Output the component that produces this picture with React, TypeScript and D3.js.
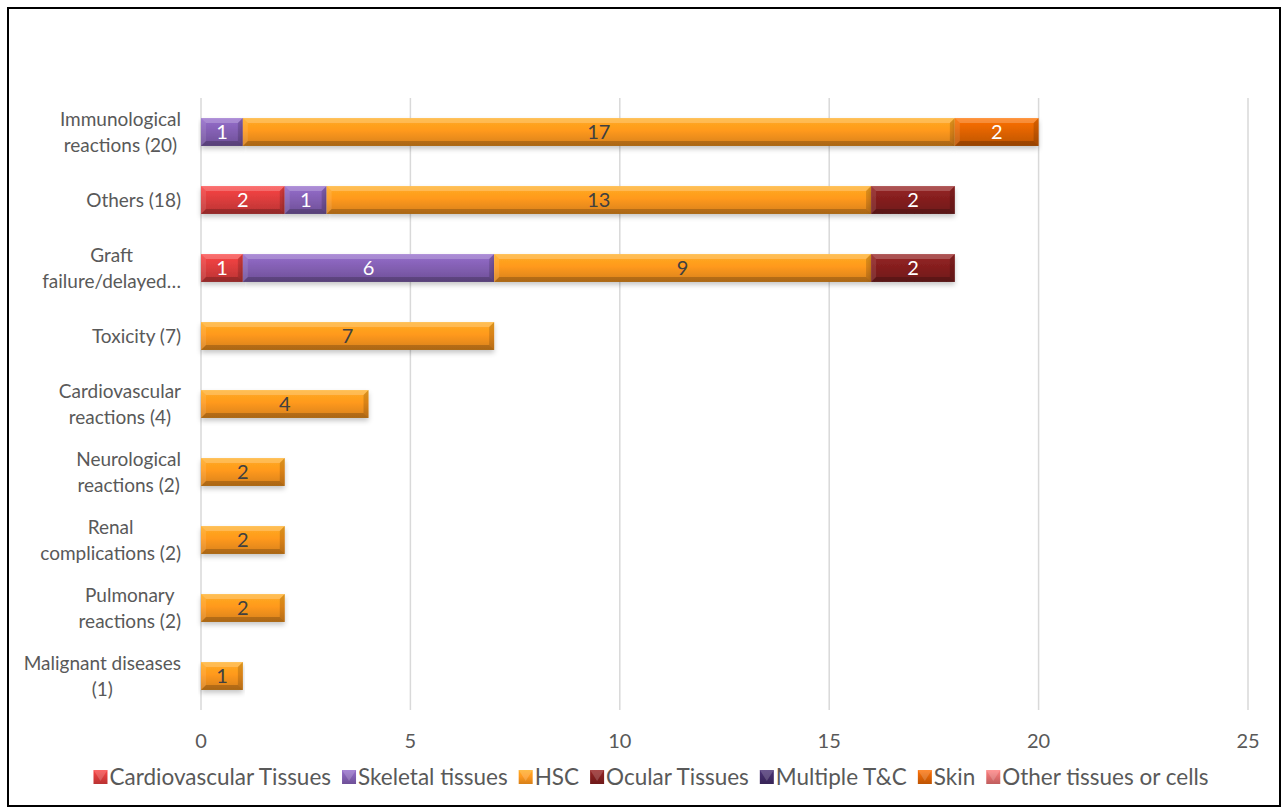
import React, { useEffect, useRef } from "react";
import * as d3 from "d3";

const categories = [
  ["Immunological", "reactions (20)"],
  ["Others (18)"],
  ["Graft", "failure/delayed…"],
  ["Toxicity (7)"],
  ["Cardiovascular", "reactions (4)"],
  ["Neurological", "reactions (2)"],
  ["Renal", "complications (2)"],
  ["Pulmonary", "reactions (2)"],
  ["Malignant diseases", "(1)"],
];

const seriesNames = [
  "Cardiovascular Tissues",
  "Skeletal tissues",
  "HSC",
  "Ocular Tissues",
  "Multiple T&C",
  "Skin",
  "Other tissues or cells",
];

const cardiovascular = [0, 2, 1, 0, 0, 0, 0, 0, 0];
const skeletal = [1, 1, 6, 0, 0, 0, 0, 0, 0];
const hsc = [17, 13, 9, 7, 4, 2, 2, 2, 1];
const ocular = [0, 2, 2, 0, 0, 0, 0, 0, 0];
const multiple = [0, 0, 0, 0, 0, 0, 0, 0, 0];
const skin = [2, 0, 0, 0, 0, 0, 0, 0, 0];
const otherTissues = [0, 0, 0, 0, 0, 0, 0, 0, 0];

const xTicks = [0, 5, 10, 15, 20, 25];

const colors = ["#d23a3a", "#7d5bab", "#f2911c", "#7e1d1d", "#3f2a63", "#d65f05", "#d86a6a"];
const labelColors = ["#fff", "#fff", "#404040", "#fff", "#fff", "#fff", "#fff"];

const FONT = "Lato, 'Open Sans', sans-serif";

const App: React.FC = () => {
  const svgRef = useRef<SVGSVGElement | null>(null);

  useEffect(() => {
    if (!svgRef.current) return;
    const svg = d3.select(svgRef.current);
    svg.selectAll("*").remove();

    const width = 1282;
    const height = 809;
    const plot = { left: 201, right: 1248, top: 98, bottom: 710 };

    const values = [cardiovascular, skeletal, hsc, ocular, multiple, skin, otherTissues];

    const defs = svg.append("defs");
    colors.forEach((c, i) => {
      const grad = defs
        .append("linearGradient")
        .attr("id", `g${i}`)
        .attr("x1", 0)
        .attr("y1", 0)
        .attr("x2", 0)
        .attr("y2", 1);
      const base = d3.color(c)!;
      grad.append("stop").attr("offset", "0%").attr("stop-color", base.brighter(0.5).formatHex());
      grad.append("stop").attr("offset", "45%").attr("stop-color", base.brighter(0.15).formatHex());
      grad.append("stop").attr("offset", "100%").attr("stop-color", base.darker(0.35).formatHex());
    });
    const shadow = defs.append("filter").attr("id", "sh").attr("x", "-5%").attr("y", "-20%").attr("width", "110%").attr("height", "160%");
    shadow
      .append("feDropShadow")
      .attr("dx", 0)
      .attr("dy", 3)
      .attr("stdDeviation", 2.5)
      .attr("flood-color", "#000")
      .attr("flood-opacity", 0.22);

    svg
      .append("rect")
      .attr("x", 8)
      .attr("y", 8)
      .attr("width", 1272)
      .attr("height", 798)
      .attr("fill", "#fff")
      .attr("stroke", "#000")
      .attr("stroke-width", 2);

    const x = d3.scaleLinear().domain([0, 25]).range([plot.left, plot.right]);
    const y = d3
      .scaleBand<number>()
      .domain(d3.range(categories.length))
      .range([plot.top, plot.bottom])
      .paddingInner(0.59)
      .paddingOuter(0.295);

    // gridlines
    svg
      .append("g")
      .selectAll("line")
      .data(xTicks)
      .enter()
      .append("line")
      .attr("x1", (d) => x(d))
      .attr("x2", (d) => x(d))
      .attr("y1", plot.top)
      .attr("y2", plot.bottom)
      .attr("stroke", "#d9d9d9")
      .attr("stroke-width", 1.5);

    // tick labels
    svg
      .append("g")
      .selectAll("text")
      .data(xTicks)
      .enter()
      .append("text")
      .attr("x", (d) => x(d))
      .attr("y", 741)
      .attr("dy", "0.35em")
      .attr("text-anchor", "middle")
      .attr("font-family", FONT)
      .attr("font-size", 20)
      .attr("fill", "#595959")
      .text((d) => d);

    // category labels (lines centered, block right aligned)
    const labelRight = 181;
    categories.forEach((lines, i) => {
      const g = svg.append("g");
      const texts = lines.map((l) =>
        g
          .append("text")
          .attr("font-family", FONT)
          .attr("font-size", 19)
          .attr("fill", "#595959")
          .attr("text-anchor", "middle")
          .text(l)
      );
      const maxW = d3.max(texts, (t) => (t.node() as SVGTextElement).getComputedTextLength()) || 0;
      const cy = y(i)! + y.bandwidth() / 2;
      const lh = 26;
      texts.forEach((t, j) => {
        t.attr("x", labelRight - maxW / 2)
          .attr("y", cy + (j - (lines.length - 1) / 2) * lh)
          .attr("dy", "0.35em");
      });
    });

    // stacked bars
    const bevel = 5;
    const barsG = svg.append("g");
    categories.forEach((_, i) => {
      let acc = 0;
      values.forEach((series, s) => {
        const v = series[i];
        if (!v) return;
        const x0 = x(acc);
        const x1 = x(acc + v);
        acc += v;
        const y0 = y(i)!;
        const h = y.bandwidth();
        const g = barsG.append("g");
        g.append("rect")
          .attr("x", x0)
          .attr("y", y0)
          .attr("width", x1 - x0)
          .attr("height", h)
          .attr("fill", `url(#g${s})`)
          .attr("filter", "url(#sh)");
        // bevel edges
        g.append("polygon")
          .attr("points", `${x0},${y0} ${x1},${y0} ${x1 - bevel},${y0 + bevel} ${x0 + bevel},${y0 + bevel}`)
          .attr("fill", "#fff")
          .attr("opacity", 0.22);
        g.append("polygon")
          .attr("points", `${x0},${y0 + h} ${x1},${y0 + h} ${x1 - bevel},${y0 + h - bevel} ${x0 + bevel},${y0 + h - bevel}`)
          .attr("fill", "#000")
          .attr("opacity", 0.2);
        g.append("polygon")
          .attr("points", `${x0},${y0} ${x0 + bevel},${y0 + bevel} ${x0 + bevel},${y0 + h - bevel} ${x0},${y0 + h}`)
          .attr("fill", "#fff")
          .attr("opacity", 0.1);
        g.append("polygon")
          .attr("points", `${x1},${y0} ${x1 - bevel},${y0 + bevel} ${x1 - bevel},${y0 + h - bevel} ${x1},${y0 + h}`)
          .attr("fill", "#000")
          .attr("opacity", 0.15);
        g.append("text")
          .attr("x", (x0 + x1) / 2)
          .attr("y", y0 + h / 2)
          .attr("dy", "0.36em")
          .attr("text-anchor", "middle")
          .attr("font-family", FONT)
          .attr("font-size", 20)
          .attr("fill", labelColors[s])
          .text(v);
      });
    });

    // legend
    const legend = svg.append("g");
    const items = seriesNames.map((name, s) => {
      const g = legend.append("g");
      const m = 14;
      g.append("rect").attr("x", 0).attr("y", -m / 2).attr("width", m).attr("height", m).attr("fill", `url(#g${s})`);
      g.append("polygon")
        .attr("points", `0,${-m / 2} ${m},${-m / 2} ${m / 2},${m / 2 - 3} `)
        .attr("fill", "#fff")
        .attr("opacity", 0.18);
      const t = g
        .append("text")
        .attr("x", m + 2)
        .attr("dy", "0.35em")
        .attr("font-family", FONT)
        .attr("font-size", 22.5)
        .attr("fill", "#595959")
        .text(name);
      const w = m + 2 + (t.node() as SVGTextElement).getComputedTextLength();
      return { g, w };
    });
    const gap = 11;
    const total = d3.sum(items, (d) => d.w) + gap * (items.length - 1);
    let lx = 651 - total / 2;
    items.forEach((it) => {
      it.g.attr("transform", `translate(${lx},777)`);
      lx += it.w + gap;
    });

    svg.attr("width", width).attr("height", height);
  }, []);

  return (
    <svg
      ref={svgRef}
      width={1282}
      height={809}
      style={{ position: "absolute", left: 0, top: 0, background: "#fff" }}
    ></svg>
  );
};

export default App;
